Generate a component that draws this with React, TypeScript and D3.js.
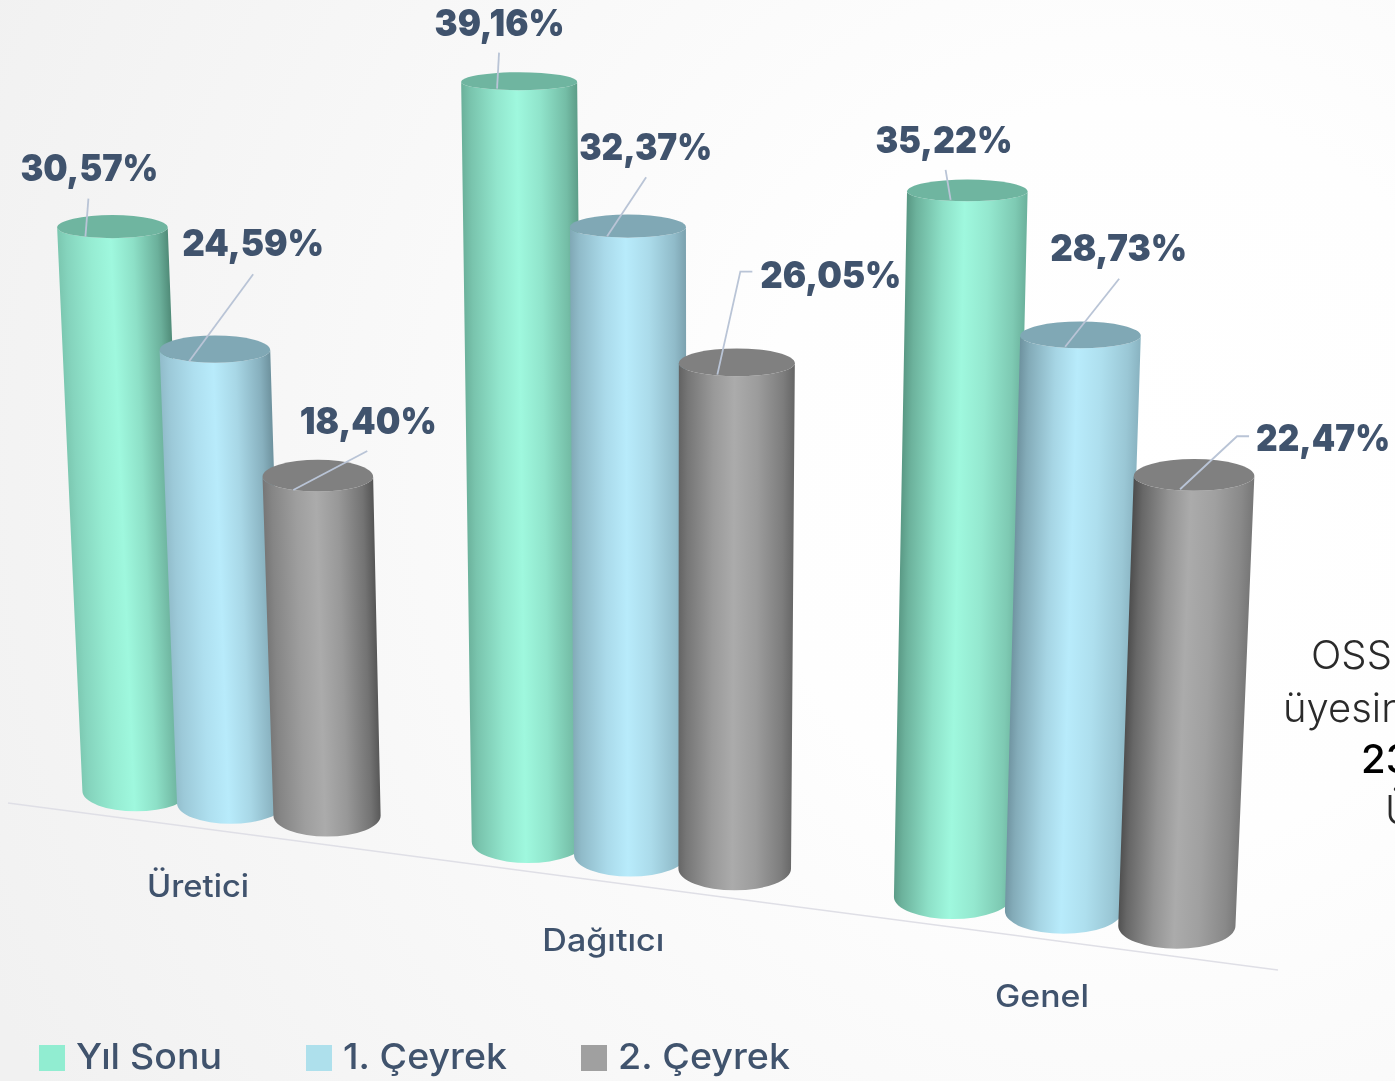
import React from "react";
import * as d3 from "d3";

const categories = ["Üretici", "Dağıtıcı", "Genel"];
const seriesNames = ["Yıl Sonu", "1. Çeyrek", "2. Çeyrek"];
const yilSonu = [30.57, 39.16, 35.22];
const ceyrek1 = [24.59, 32.37, 28.73];
const ceyrek2 = [18.4, 26.05, 22.47];
const seriesValues = [yilSonu, ceyrek1, ceyrek2];
const sideNote = ["OSS", "üyesin", "23", "Ü"];

const W = 1395;
const H = 1081;
const INK = "#40536d";
const FONT = "Inter, 'Noto Sans', sans-serif";

// Appearance per series
const swatch = ["#91edd1", "#aee0ec", "#a0a0a0"];
const light = ["#9ff8de", "#b8ebfb", "#ababab"];
const dark = ["#4f8a77", "#6a8d99", "#4c4c4c"];
const cap = ["#6fb5a0", "#80a8b5", "#808080"];

// Layout: perspective along the floor
const GROUP_STEP = 4.024;
const depthX = (w: number) => 136 + (93.7 * w) / (1 - 0.0095 * w);
const floorY = d3.scaleLinear().domain([136, 1177]).range([791, 926]);
const unitPx = d3.scaleLinear().domain([0, 1, 2]).range([18.43, 19.4, 20.03]);
const topRx = d3.scaleLinear().domain([0, 1, 2]).range([55.3, 58, 60.3]);
const frontRy = d3.scaleLinear().domain([82, 800]).range([8, 20.5]);
const anchorDx = d3.scaleLinear().domain([113, 1193]).range([-27, -14]);
const leftShade = d3.scaleLinear().domain([113, 1193]).range([0.45, 1]);
const rightShade = d3.scaleLinear().domain([113, 1193]).range([1, 0.55]);
const labelShift = [-32.5, -27, -21.5];
const labelDrop = [93.5, 96, 96];
const VANISH_X = 680;
const VANISH_D = 13000;

// Leader deltas from the cap anchor, per [group][series]
const leaders = [
  [[[3, -38]], [[64, -87]], [[74, -39]]],
  [[[2, -36]], [[39, -59]], [[23, -103], [35, -103]]],
  [[[-5, -30]], [[54, -68]], [[57, -53], [69, -53]]],
];
// Value label box relative to leader end: dx, dy, text width
const labelBoxes = [
  [[-68, -18, 138], [-71, -18, 142], [-67.5, -17, 137]],
  [[-64.5, -17, 130], [-67, -17, 133], [8, 16, 141]],
  [[-70, -17, 137], [-69, -18, 137], [7, 15, 134]],
];
const legendX = [39, 306, 581];
const legendTextEnd = [222, 507, 790];
const axisLabelWidth = [102, 122, 94];
const noteLayout = [
  { x: 1311, y: 669, w: 300 },
  { x: 1283, y: 722, w: 300 },
  { x: 1361, y: 773, w: 500 },
  { x: 1385, y: 824, w: 300 },
];

const fmt = (v: number) => v.toFixed(2).replace(".", ",") + "%";

export default function App() {
  const cyls = categories.flatMap((cat, g) =>
    seriesValues.map((vals, s) => {
      const v = vals[g];
      const bx = depthX(g * GROUP_STEP + s);
      const by = floorY(bx);
      const h = v * unitPx(g);
      const ty = by - h;
      const tx = bx - ((VANISH_X - bx) * h) / VANISH_D;
      const rt = topRx(g);
      const rb = rt - 1.7;
      const ft = frontRy(ty);
      const bt = ft + 2;
      const fb = frontRy(by);
      const slope = (bx - tx) / h;
      const id = `g${g}s${s}`;
      const side =
        `M${tx - rt},${ty} A${rt},${ft} 0 0 0 ${tx + rt},${ty} ` +
        `L${bx + rb},${by} A${rb},${fb} 0 0 1 ${bx - rb},${by} Z`;
      const top =
        `M${tx - rt},${ty} A${rt},${bt} 0 0 1 ${tx + rt},${ty} ` +
        `A${rt},${ft} 0 0 1 ${tx - rt},${ty} Z`;
      const ramp = d3.interpolateRgb(light[s], dark[s]);
      const stops = [
        [0, ramp(leftShade(tx))],
        [0.08, ramp(leftShade(tx) * 0.72)],
        [0.3, ramp(leftShade(tx) * 0.25)],
        [0.48, light[s]],
        [0.68, ramp(rightShade(tx) * 0.22)],
        [0.9, ramp(rightShade(tx) * 0.65)],
        [1, ramp(rightShade(tx))],
      ] as [number, string][];
      const ax = tx + anchorDx(tx);
      const ay = ty + ft - 1.5;
      const pts = [[ax, ay], ...leaders[g][s].map(([dx, dy]) => [ax + dx, ay + dy])];
      const end = pts[pts.length - 1];
      const box = labelBoxes[g][s];
      return { id, g, s, v, tx, ty, rt, slope, side, top, stops, pts, end, box, bx, by };
    })
  );
  const line = d3.line();
  const floorEdge = d3.scaleLinear().domain([8, 1278]).range([803, 970]);

  return (
    <svg
      width={W}
      height={H}
      viewBox={`0 0 ${W} ${H}`}
      style={{ position: "fixed", left: 0, top: 0, display: "block" }}
    >
      <defs>
        <radialGradient id="bg" gradientUnits="userSpaceOnUse" cx={1130} cy={480} r={1250}>
          <stop offset="0" stopColor="#ffffff" />
          <stop offset="0.3" stopColor="#fefefe" />
          <stop offset="1" stopColor="#f1f1f1" />
        </radialGradient>
        {cyls.map((c) => (
          <linearGradient
            key={c.id}
            id={c.id}
            gradientUnits="userSpaceOnUse"
            x1={c.tx - c.rt}
            y1={c.ty}
            x2={c.tx + c.rt}
            y2={c.ty - 2 * c.rt * c.slope}
          >
            {c.stops.map(([o, col], i) => (
              <stop key={i} offset={o} stopColor={col} />
            ))}
          </linearGradient>
        ))}
      </defs>
      <rect width={W} height={H} fill="url(#bg)" />

      {sideNote.map((t, i) => (
        <text
          key={i}
          x={noteLayout[i].x}
          y={noteLayout[i].y}
          fontFamily={FONT}
          fontSize={40}
          fontWeight={noteLayout[i].w}
          fill={i === 2 ? "#000000" : "#2a2a2a"}
        >
          {t}
        </text>
      ))}

      <line
        x1={8}
        y1={floorEdge(8)}
        x2={1278}
        y2={floorEdge(1278)}
        stroke="#dfdfe6"
        strokeWidth={1.5}
      />

      {cyls.map((c) => (
        <g key={c.id}>
          <path d={c.side} fill={`url(#${c.id})`} />
          <path d={c.top} fill={cap[c.s]} />
        </g>
      ))}

      {cyls.map((c) => (
        <g key={c.id}>
          <path
            d={line(c.pts as [number, number][]) || ""}
            fill="none"
            stroke="#b9c4d6"
            strokeWidth={1.8}
          />
          <text
            x={c.end[0] + c.box[0]}
            y={c.end[1] + c.box[1]}
            textLength={c.box[2]}
            lengthAdjust="spacingAndGlyphs"
            fontFamily={FONT}
            fontSize={37}
            fontWeight={900}
            fill={INK}
          >
            {fmt(c.v)}
          </text>
        </g>
      ))}

      {categories.map((cat, g) => {
        const bx = depthX(g * GROUP_STEP + 1);
        return (
          <text
            key={cat}
            x={bx + labelShift[g]}
            y={floorY(bx) + labelDrop[g]}
            textAnchor="middle"
            textLength={axisLabelWidth[g]}
            lengthAdjust="spacingAndGlyphs"
            fontFamily={FONT}
            fontSize={31}
            fontWeight={500}
            fill={INK}
          >
            {cat}
          </text>
        );
      })}

      {seriesNames.map((name, i) => (
        <g key={name}>
          <rect x={legendX[i]} y={1045} width={26} height={26} fill={swatch[i]} />
          <text
            x={legendX[i] + 37}
            y={1069}
            textLength={legendTextEnd[i] - legendX[i] - 37}
            lengthAdjust="spacingAndGlyphs"
            fontFamily={FONT}
            fontSize={36}
            fontWeight={500}
            fill={INK}
          >
            {name}
          </text>
        </g>
      ))}
    </svg>
  );
}
